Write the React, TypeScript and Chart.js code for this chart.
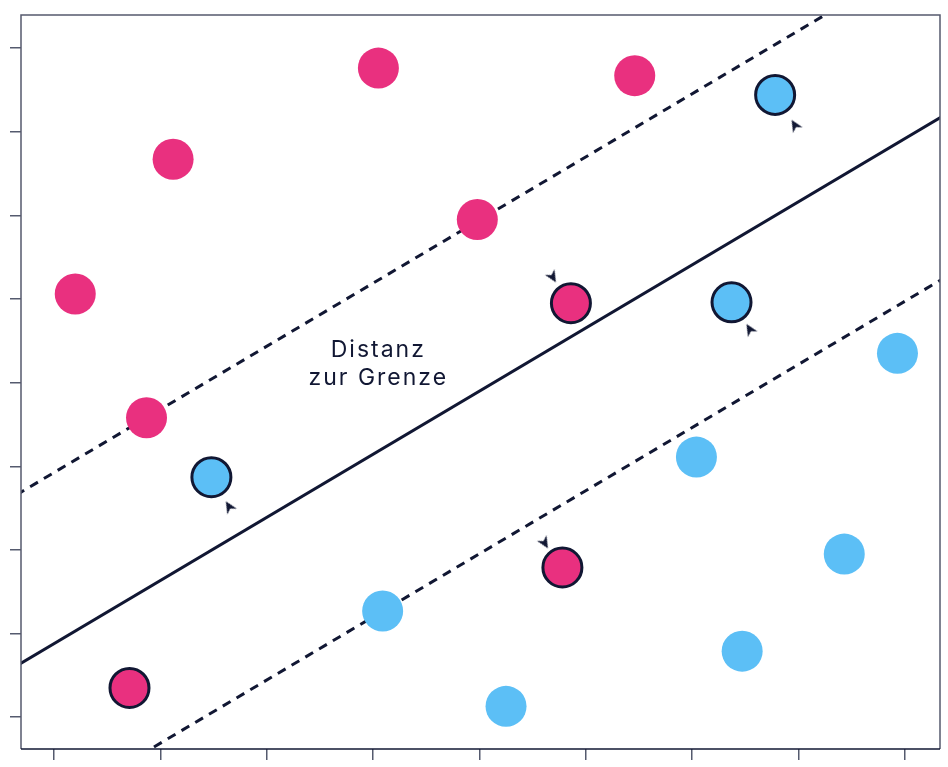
import React, { useEffect, useRef } from "react";
import { Chart, registerables } from "chart.js";

Chart.register(...registerables);

const PINK = "#E9307F";
const BLUE = "#5CBFF6";
const NAVY = "#111733";
const AXIS = "#555a6e";

const tickValues = [1, 2, 3, 4, 5, 6, 7, 8, 9];

// class A (pink) points, plain
const pinkX = [1.2, 2.12, 4.05, 6.46, 4.98, 1.87];
const pinkY = [6.06, 7.67, 8.76, 8.67, 6.95, 4.58];
// class A (pink) points, outlined
const pinkOutX = [5.86, 5.78, 1.71];
const pinkOutY = [5.95, 2.79, 1.35];
// class B (blue) points, plain
const blueX = [8.93, 7.04, 8.43, 4.09, 7.47, 5.25];
const blueY = [5.35, 4.11, 2.95, 2.27, 1.79, 1.13];
// class B (blue) points, outlined
const blueOutX = [7.78, 7.37, 2.48];
const blueOutY = [8.44, 5.96, 3.87];

// boundary and margins (defined by two end points)
const lineX = [0, 10];
const boundaryY = [1.125, 8.673];
const upperMarginY = [3.17, 10.718];
const lowerMarginY = [-0.82, 6.728];

// arrowheads pointing towards the boundary
const arrowX = [5.69, 5.615, 2.645, 7.964, 7.54];
const arrowY = [6.26, 3.08, 3.52, 8.08, 5.64];
const arrowAngle = [59, 59, 239, 239, 239];

const labelLines = ["Distanz", "zur Grenze"];
const labelX = 4.04;
const labelY = 5.25;

const zip = (xs: number[], ys: number[]) => xs.map((x, i) => ({ x, y: ys[i] }));

function makeArrow(): HTMLCanvasElement {
  const c = document.createElement("canvas");
  c.width = 14;
  c.height = 14;
  const g = c.getContext("2d")!;
  g.fillStyle = NAVY;
  g.beginPath();
  g.moveTo(13, 7);
  g.lineTo(1, 1.5);
  g.lineTo(4.5, 7);
  g.lineTo(1, 12.5);
  g.closePath();
  g.fill();
  return c;
}

export default function App() {
  const ref = useRef<HTMLCanvasElement>(null);
  useEffect(() => {
    const arrow = makeArrow();
    const frame = {
      id: "frame",
      afterDatasetsDraw(chart: any) {
        const { ctx, chartArea: a, scales } = chart;
        ctx.save();
        ctx.strokeStyle = AXIS;
        ctx.lineWidth = 1.5;
        ctx.beginPath();
        ctx.moveTo(a.left, a.bottom);
        ctx.lineTo(a.left, a.top);
        ctx.lineTo(a.right, a.top);
        ctx.lineTo(a.right, a.bottom);
        ctx.stroke();
        ctx.strokeStyle = NAVY;
        ctx.beginPath();
        ctx.moveTo(a.left, a.bottom);
        ctx.lineTo(a.right, a.bottom);
        ctx.stroke();
        ctx.fillStyle = NAVY;
        ctx.font = "400 23px Inter, 'Open Sans', sans-serif";
        (ctx as any).letterSpacing = "2px";
        ctx.textAlign = "center";
        ctx.textBaseline = "alphabetic";
        const px = scales.x.getPixelForValue(labelX) + 1;
        const py = scales.y.getPixelForValue(labelY);
        ctx.fillText(labelLines[0], px, py - 5);
        ctx.fillText(labelLines[1], px, py + 23);
        ctx.restore();
      },
    };
    const lineDs = (ys: number[], dash: number[]) => ({
      type: "line" as const,
      data: zip(lineX, ys),
      borderColor: NAVY,
      borderWidth: 3,
      borderDash: dash,
      pointRadius: 0,
      fill: false,
      clip: 0,
      order: 10,
    });
    const chart = new Chart(ref.current!, {
      type: "scatter",
      data: {
        datasets: [
          {
            data: zip(arrowX, arrowY),
            pointStyle: arrow as any,
            rotation: arrowAngle,
            pointRadius: 7,
            order: 0,
          } as any,
          {
            data: zip(pinkX, pinkY),
            backgroundColor: PINK,
            borderWidth: 0,
            pointRadius: 20.5,
            order: 1,
          },
          {
            data: zip(pinkOutX, pinkOutY),
            backgroundColor: PINK,
            borderColor: NAVY,
            borderWidth: 3,
            pointRadius: 19.5,
            order: 1,
          },
          {
            data: zip(blueX, blueY),
            backgroundColor: BLUE,
            borderWidth: 0,
            pointRadius: 20.5,
            order: 1,
          },
          {
            data: zip(blueOutX, blueOutY),
            backgroundColor: BLUE,
            borderColor: NAVY,
            borderWidth: 3,
            pointRadius: 19.5,
            order: 1,
          },
          lineDs(boundaryY, []),
          lineDs(upperMarginY, [9, 7]),
          lineDs(lowerMarginY, [9, 7]),
        ] as any,
      },
      options: {
        animation: false,
        responsive: false,
        layout: { autoPadding: false, padding: { left: 10, top: 15, right: 8, bottom: 7 } },
        plugins: { legend: { display: false }, tooltip: { enabled: false } },
        scales: {
          x: {
            type: "linear",
            min: 0.69,
            max: 9.33,
            afterBuildTicks: (s: any) => {
              s.ticks = tickValues.map((v) => ({ value: v }));
            },
            ticks: { display: false },
            grid: { drawOnChartArea: false, drawTicks: true, tickLength: 11, color: AXIS, lineWidth: 1.5 },
            border: { display: false },
          },
          y: {
            type: "linear",
            min: 0.62,
            max: 9.395,
            afterBuildTicks: (s: any) => {
              s.ticks = tickValues.map((v) => ({ value: v }));
            },
            ticks: { display: false },
            grid: { drawOnChartArea: false, drawTicks: true, tickLength: 11, color: AXIS, lineWidth: 1.5 },
            border: { display: false },
          },
        },
      },
      plugins: [frame],
    });
    return () => chart.destroy();
  }, []);
  return (
    <div style={{ position: "fixed", left: 0, top: 0, width: 948, height: 767, background: "#fff" }}>
      <canvas ref={ref} width={948} height={767} style={{ width: 948, height: 767, display: "block" }} />
    </div>
  );
}
